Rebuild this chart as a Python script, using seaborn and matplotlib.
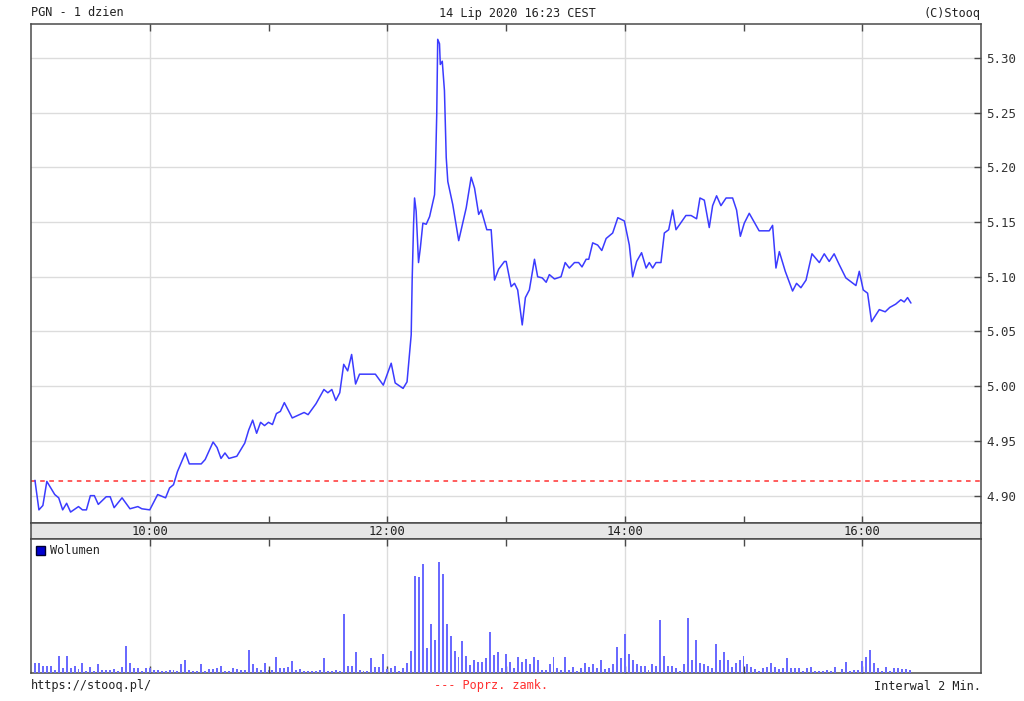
import matplotlib
matplotlib.use("Agg")
import matplotlib.pyplot as plt
from matplotlib.patches import Patch
from matplotlib.transforms import blended_transform_factory
import seaborn as sns
import pandas as pd

# ---------------- data ----------------
# minutes after 09:00
price_time = [2, 4, 6, 8, 12, 14, 16, 18, 20, 24, 26, 28, 30, 32, 34, 38, 40, 42, 46, 50,
              54, 56, 60, 64, 68, 70, 72, 74, 78, 80, 86, 88, 92, 94, 96, 98, 100, 104, 108, 110,
              112, 114, 116, 118, 120, 122, 124, 126, 128, 132, 138, 140, 144, 148, 150, 152, 154, 156, 158, 160,
              162, 164, 166, 174, 178, 182, 184, 188, 190,
              192.1, 192.6, 193.3, 193.8, 194.6, 195.8, 196.7, 198.0, 199.7, 201.4,
              203.9, 204.4, 205.0, 205.5, 206.4, 206.8, 207.8, 208.9, 209.8, 210.6,
              213.1, 216.1, 219.9, 222.4, 224.1, 226.2, 227.5, 230.3, 232.5, 234.2,
              236.3, 239.2, 240.1, 242.6, 244.3, 245.9, 248.2, 249.8, 251.8, 254.4,
              256.0, 258.3, 260.3, 261.9, 264.5, 267.8, 269.9, 272.0, 274.6, 276.7,
              278.4, 280.5, 281.8, 283.8, 286.3, 288.4, 290.6, 293.9, 296.5, 299.8,
              302.3, 304.0, 306.0, 308.5, 310.8, 312.4, 314.1, 315.8, 318.3, 320.0,
              322.2, 324.2, 325.9, 330.9, 333.5, 336.3, 338.0, 340.2, 342.7, 344.4,
              346.4, 348.6, 351.2, 354.5, 356.5, 358.4, 360.4, 362.9, 367.9, 373.0,
              374.7, 376.4, 378.1, 381.1, 384.8, 386.8, 389.0, 391.6, 394.6, 398.3,
              400.8, 403.3, 405.8, 408.4, 411.7, 416.8, 418.5, 420.5, 422.7, 424.7,
              428.6, 431.6, 433.9, 436.9, 439.5, 441.2, 442.9, 444.6]
price = [4.914, 4.887, 4.891, 4.913, 4.901, 4.898, 4.887, 4.893, 4.885, 4.890, 4.887, 4.887, 4.900, 4.900, 4.892, 4.899, 4.899, 4.889, 4.898, 4.888,
         4.890, 4.888, 4.887, 4.901, 4.898, 4.907, 4.910, 4.922, 4.939, 4.929, 4.929, 4.933, 4.949, 4.944, 4.934, 4.939, 4.934, 4.936, 4.948, 4.960,
         4.969, 4.957, 4.967, 4.964, 4.967, 4.965, 4.975, 4.977, 4.985, 4.971, 4.976, 4.974, 4.984, 4.997, 4.994, 4.997, 4.987, 4.994, 5.020, 5.014,
         5.029, 5.002, 5.011, 5.011, 5.001, 5.021, 5.003, 4.998, 5.004,
         5.047, 5.098, 5.148, 5.172, 5.160, 5.113, 5.126, 5.149, 5.148, 5.155,
         5.175, 5.201, 5.248, 5.317, 5.313, 5.294, 5.297, 5.270, 5.209, 5.187,
         5.166, 5.133, 5.163, 5.191, 5.181, 5.157, 5.161, 5.143, 5.143, 5.097,
         5.107, 5.114, 5.114, 5.091, 5.094, 5.088, 5.056, 5.081, 5.088, 5.116,
         5.100, 5.099, 5.095, 5.102, 5.098, 5.100, 5.113, 5.108, 5.113, 5.113,
         5.109, 5.116, 5.116, 5.131, 5.129, 5.124, 5.135, 5.140, 5.154, 5.151,
         5.129, 5.100, 5.114, 5.122, 5.108, 5.113, 5.108, 5.113, 5.113, 5.140,
         5.143, 5.161, 5.143, 5.156, 5.156, 5.153, 5.172, 5.170, 5.145, 5.165,
         5.174, 5.165, 5.172, 5.172, 5.161, 5.137, 5.149, 5.158, 5.142, 5.142,
         5.147, 5.108, 5.123, 5.105, 5.087, 5.094, 5.090, 5.097, 5.121, 5.113,
         5.121, 5.114, 5.121, 5.111, 5.099, 5.092, 5.105, 5.088, 5.085, 5.059,
         5.070, 5.068, 5.072, 5.075, 5.079, 5.077, 5.081, 5.076]

prev_close = 4.913

# 2-minute volume bars, 09:02 ... 16:24 (relative units)
vol_time = list(range(2, 446, 2))
volume = [10, 10, 7.3, 7.3, 7.3, 3.3, 17.3, 4.7, 17.3, 4.7,
          7.3, 4, 10, 2, 6, 2, 8.7, 3.3, 3.3, 2.7,
          4, 2, 6, 27.3, 10, 4.7, 4.7, 2, 4.7, 4.7,
          2.7, 3.3, 2, 2, 3.3, 3.3, 2, 8.7, 13.3, 2.7,
          2, 2, 8.7, 2, 4, 4, 4.7, 7.3, 2, 2,
          4.7, 4, 3.3, 3.3, 23.3, 8.7, 4.7, 3.3, 10, 3.3,
          2.7, 16, 4.7, 4.7, 6, 12, 3.3, 4, 2, 2,
          2, 2, 3.3, 14.7, 2, 2, 3.3, 2, 58.7, 6.7,
          7.3, 21.3, 3.3, 2, 2, 14.7, 6, 6, 18.7, 4,
          4.7, 7.3, 2, 4.7, 10, 22, 97.3, 96, 109.3, 24.7,
          49.3, 32.7, 110.7, 99.3, 49.3, 36.7, 22, 16, 32, 17.3,
          8, 13.3, 10.7, 10.7, 14.7, 40.7, 18, 20.7, 5.3, 19.3,
          10.7, 4.7, 16, 11, 13.7, 8.7, 16, 12.7, 3.3, 3.3,
          8.7, 16, 4.7, 3.3, 16, 2.7, 6, 2, 4.7, 10,
          6, 8.7, 4.7, 13.3, 4, 4.7, 8.7, 26, 14.7, 38.7,
          18.7, 12.7, 8.7, 7.3, 7.3, 3.3, 8.7, 7.3, 53.3, 17.3,
          7.3, 6.7, 4.7, 2, 8.7, 54.7, 12.7, 32.7, 10, 8.7,
          7.3, 4.7, 28.7, 12.7, 21.3, 12.7, 6, 10, 12.7, 17.3,
          8.7, 6, 4, 2, 4.7, 6, 10, 6, 4, 4.7,
          14.7, 4.7, 4.7, 4.7, 2, 4.7, 6, 2, 2, 2,
          3.3, 2, 6, 0, 4, 10.7, 2, 3.3, 3.3, 12,
          16, 23.3, 10, 4.7, 2, 6, 2, 4.7, 4.7, 4,
          4, 2.7]

hour_ticks = [60, 120, 180, 240, 300, 360, 420]
label_pos = [60, 180, 300, 420]
label_txt = ["10:00", "12:00", "14:00", "16:00"]
price_ticks = [4.90, 4.95, 5.00, 5.05, 5.10, 5.15, 5.20, 5.25, 5.30]

title_left = "PGN - 1 dzien"
title_mid = "14 Lip 2020 16:23 CEST"
title_right = "(C)Stooq"
foot_left = "https://stooq.pl/"
foot_mid = "--- Poprz. zamk."
foot_right = "Interwal 2 Min."

# ---------------- styling ----------------
sns.set_style("white")
plt.rcParams["font.family"] = ["DejaVu Sans Mono"]
FS = 8.6
SPINE = "#4a4a4a"
GRID = "#dcdcdc"
LINE = "#3b3bff"
BAR = "#6a6aff"

W, H = 1024, 701
fig = plt.figure(figsize=(W / 100, H / 100), dpi=100)
fig.patch.set_facecolor("white")

L, R = 31, 981
ax1 = fig.add_axes([L / W, 1 - 523 / H, (R - L) / W, (523 - 24) / H])
axb = fig.add_axes([L / W, 1 - 539 / H, (R - L) / W, (539 - 523) / H])
ax2 = fig.add_axes([L / W, 1 - 673 / H, (R - L) / W, (673 - 539) / H])

xlim = (0, 480)

# price panel
df_p = pd.DataFrame({"t": price_time, "p": price})
for yv in price_ticks:
    ax1.axhline(yv, color=GRID, lw=1, zorder=0)
for xv in label_pos:
    ax1.axvline(xv, color=GRID, lw=1, zorder=0)
ax1.axhline(prev_close, color="#ff3030", lw=1.1, ls=(0, (3, 3)), zorder=1)
sns.lineplot(data=df_p, x="t", y="p", ax=ax1, color=LINE, lw=1.1,
             estimator=None, sort=False, legend=False, zorder=3)
ax1.set_xlim(*xlim)
ax1.set_ylim(4.875, 5.331)
ax1.set_xlabel("")
ax1.set_ylabel("")
ax1.set_xticks(hour_ticks)
ax1.set_xticklabels([])
ax1.set_yticks(price_ticks)
ax1.set_yticklabels([f"{v:.2f}" for v in price_ticks])
ax1.yaxis.tick_right()
ax1.tick_params(axis="x", direction="in", length=5, width=1, color=SPINE,
                top=True, bottom=True)
ax1.tick_params(axis="y", direction="in", length=5, width=1, color=SPINE,
                right=True, left=False, labelright=True, labelleft=False,
                labelsize=FS + 0.4, labelcolor="#333333", pad=4)

# band with time labels
axb.set_facecolor("#e6e6e6")
axb.set_xlim(*xlim)
axb.set_ylim(0, 1)
axb.set_xticks([])
axb.set_yticks([])
for xv, txt in zip(label_pos, label_txt):
    axb.text(xv, 0.45, txt, ha="center", va="center", fontsize=FS + 0.2,
             color="#222222")

# volume panel
for xv in label_pos:
    ax2.axvline(xv, color=GRID, lw=1, zorder=0)
sns.histplot(x=vol_time, weights=volume, discrete=True, ax=ax2, color=BAR,
             edgecolor="none", linewidth=0, alpha=1, element="bars", zorder=3)
ax2.set_xlim(*xlim)
ax2.set_ylim(0, 134)
ax2.set_xlabel("")
ax2.set_ylabel("")
ax2.set_yticks([])
ax2.set_xticks(hour_ticks)
ax2.set_xticklabels([])
ax2.tick_params(axis="x", direction="in", length=5, width=1, color=SPINE,
                top=True, bottom=True)
ax2.legend(handles=[Patch(facecolor="#0000d0", edgecolor="#000030", label="Wolumen")],
           loc="upper left", frameon=False, fontsize=FS, handlelength=0.75,
           handleheight=0.75, handletextpad=0.35, borderaxespad=0.25, borderpad=0.2)

for ax in (ax1, axb, ax2):
    for s in ax.spines.values():
        s.set_visible(True)
        s.set_color(SPINE)
        s.set_linewidth(1.1)

# header / footer
fig.text(L / W, 1 - 13 / H, title_left, ha="left", va="center", fontsize=FS, color="#222222")
fig.text(517 / W, 1 - 13 / H, title_mid, ha="center", va="center", fontsize=FS, color="#222222")
fig.text(R / W, 1 - 13 / H, title_right, ha="right", va="center", fontsize=FS, color="#222222")
fig.text(L / W, 1 - 686 / H, foot_left, ha="left", va="center", fontsize=FS, color="#222222")
fig.text(491 / W, 1 - 686 / H, foot_mid, ha="center", va="center", fontsize=FS, color="#ff3030")
fig.text(R / W, 1 - 686 / H, foot_right, ha="right", va="center", fontsize=FS, color="#222222")

fig.savefig("out.png", dpi=100, facecolor="white")
